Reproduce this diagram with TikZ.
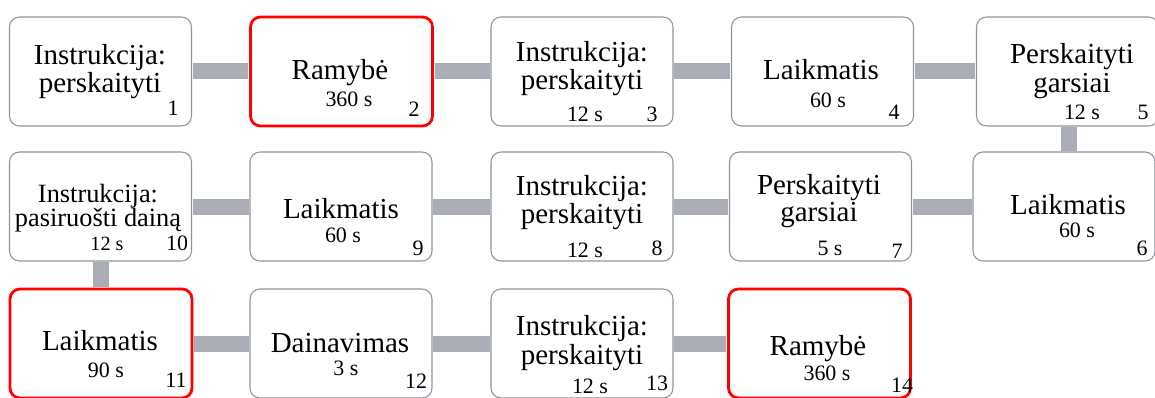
\documentclass[tikz,border=0pt]{standalone}
\usepackage{fontspec}
\setmainfont{Liberation Serif}
\definecolor{rimgray}{RGB}{140,148,162}
\definecolor{bargray}{RGB}{170,173,181}
\definecolor{alertred}{RGB}{255,0,0}
\begin{document}
\begin{tikzpicture}[
    stepbox/.style={draw=rimgray, line width=0.6pt, fill=white, rounded corners=0.2cm,
        minimum width=3.64cm, minimum height=2.18cm, inner sep=0pt},
    alertbox/.style={stepbox, draw=alertred, line width=1.6pt},
    ttl/.style={anchor=base, inner sep=0pt, font=\fontsize{16.5}{16.5}\selectfont},
    ttlsmall/.style={anchor=base, inner sep=0pt, font=\fontsize{15}{15}\selectfont},
    dur/.style={anchor=base, inner sep=0pt, font=\fontsize{12.5}{12.5}\selectfont},
    dursmall/.style={anchor=base, inner sep=0pt, font=\fontsize{11.5}{11.5}\selectfont},
    num/.style={anchor=base, inner sep=0pt, font=\fontsize{12.5}{12.5}\selectfont},
    conn/.style={draw=bargray, line width=0.32cm, shorten <=0.4pt, shorten >=0.4pt}
]
\useasboundingbox (0,0) rectangle (23.1,-7.94);

% first row
\node[stepbox] (b1) at (2.01,-1.43) {};
\node[ttl] (b1a) at (2.00,-1.30) {Instrukcija:};
\node[ttl] (b1b) at (2.00,-1.86) {perskaityti};
\node[num] (b1n) at (3.46,-2.30) {1};

\node[alertbox] (b2) at (6.83,-1.43) {};
\node[ttl] (b2a) at (6.80,-1.60) {Ramybė};
\node[dur] (b2d) at (6.98,-2.14) {360 s};
\node[num] (b2n) at (8.28,-2.32) {2};

\node[stepbox] (b3) at (11.64,-1.43) {};
\node[ttl] (b3a) at (11.64,-1.24) {Instrukcija:};
\node[ttl] (b3b) at (11.64,-1.80) {perskaityti};
\node[dur] (b3d) at (11.70,-2.44) {12 s};
\node[num] (b3n) at (13.04,-2.44) {3};

\node[stepbox] (b4) at (16.45,-1.43) {};
\node[ttl] (b4a) at (16.42,-1.60) {Laikmatis};
\node[dur] (b4d) at (16.56,-2.16) {60 s};
\node[num] (b4n) at (17.88,-2.40) {4};

\node[stepbox] (b5) at (21.35,-1.43) {};
\node[ttl] (b5a) at (21.44,-1.28) {Perskaityti};
\node[ttl] (b5b) at (21.44,-1.86) {garsiai};
\node[dur] (b5d) at (21.64,-2.40) {12 s};
\node[num] (b5n) at (22.86,-2.40) {5};

% second row
\node[stepbox] (b6) at (21.28,-4.13) {};
\node[ttl] (b6a) at (21.36,-4.28) {Laikmatis};
\node[dur] (b6d) at (21.54,-4.74) {60 s};
\node[num] (b6n) at (22.84,-5.10) {6};

\node[stepbox] (b7) at (16.41,-4.13) {};
\node[ttl] (b7a) at (16.38,-3.88) {Perskaityti};
\node[ttl] (b7b) at (16.38,-4.42) {garsiai};
\node[dur] (b7d) at (16.60,-5.10) {5 s};
\node[num] (b7n) at (17.94,-5.16) {7};

\node[stepbox] (b8) at (11.64,-4.13) {};
\node[ttl] (b8a) at (11.64,-3.90) {Instrukcija:};
\node[ttl] (b8b) at (11.64,-4.46) {perskaityti};
\node[dur] (b8d) at (11.70,-5.14) {12 s};
\node[num] (b8n) at (13.14,-5.10) {8};

\node[stepbox] (b9) at (6.82,-4.13) {};
\node[ttl] (b9a) at (6.82,-4.36) {Laikmatis};
\node[dur] (b9d) at (6.86,-4.84) {60 s};
\node[num] (b9n) at (8.36,-5.10) {9};

\node[stepbox] (b10) at (2.01,-4.13) {};
\node[ttlsmall] (b10a) at (1.96,-4.04) {Instrukcija:};
\node[ttlsmall] (b10b) at (1.96,-4.52) {pasiruošti dainą};
\node[dursmall] (b10d) at (2.14,-5.00) {12 s};
\node[num] (b10n) at (3.54,-5.00) {10};

% third row
\node[alertbox] (b11) at (2.02,-6.87) {};
\node[ttl] (b11a) at (2.00,-7.00) {Laikmatis};
\node[dur] (b11d) at (2.12,-7.54) {90 s};
\node[num] (b11n) at (3.52,-7.74) {11};

\node[stepbox] (b12) at (6.82,-6.87) {};
\node[ttl] (b12a) at (6.80,-7.04) {Dainavimas};
\node[dur] (b12d) at (6.92,-7.50) {3 s};
\node[num] (b12n) at (8.32,-7.76) {12};

\node[stepbox] (b13) at (11.64,-6.87) {};
\node[ttl] (b13a) at (11.64,-6.70) {Instrukcija:};
\node[ttl] (b13b) at (11.64,-7.28) {perskaityti};
\node[dur] (b13d) at (11.80,-7.86) {12 s};
\node[num] (b13n) at (13.14,-7.80) {13};

\node[alertbox] (b14) at (16.39,-6.87) {};
\node[ttl] (b14a) at (16.36,-7.10) {Ramybė};
\node[dur] (b14d) at (16.54,-7.60) {360 s};
\node[num] (b14n) at (18.04,-7.84) {14};

% connectors
\draw[conn] (b1.east) -- (b2.west);
\draw[conn] (b2.east) -- (b3.west);
\draw[conn] (b3.east) -- (b4.west);
\draw[conn] (b4.east) -- (b5.west);
\draw[conn] ([xshift=0.03cm]b5.south) -- ([xshift=0.03cm]b5.south |- b6.north);
\draw[conn] (b6.west) -- (b7.east);
\draw[conn] (b7.west) -- (b8.east);
\draw[conn] (b8.west) -- (b9.east);
\draw[conn] (b9.west) -- (b10.east);
\draw[conn] (b10.south) -- (b10.south |- b11.north);
\draw[conn] (b11.east) -- (b12.west);
\draw[conn] (b12.east) -- (b13.west);
\draw[conn] (b13.east) -- (b14.west);
\end{tikzpicture}
\end{document}
